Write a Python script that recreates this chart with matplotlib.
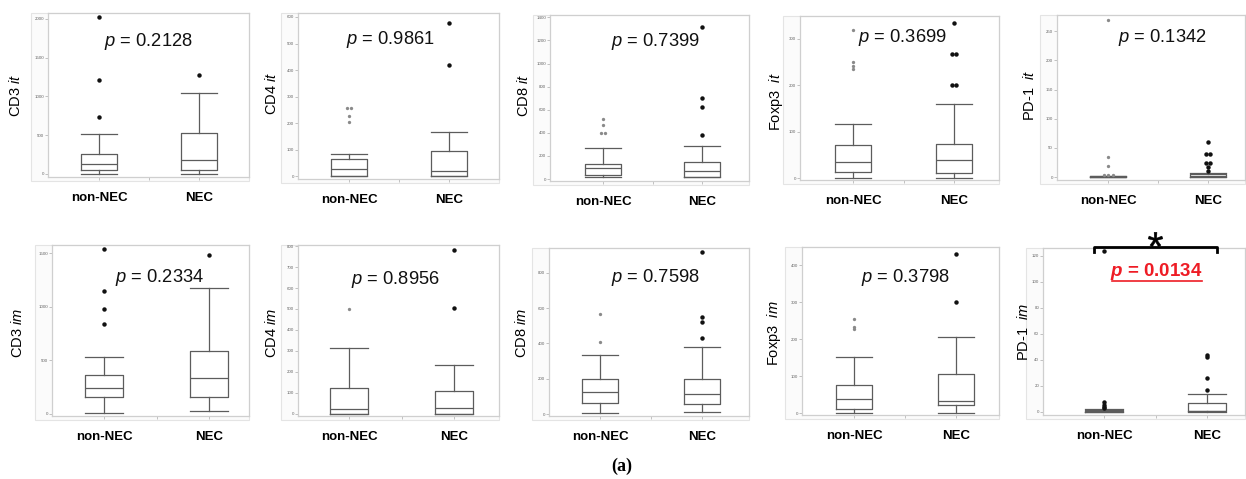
import matplotlib
matplotlib.use('Agg')
import matplotlib.pyplot as plt
from matplotlib.lines import Line2D
from matplotlib.patches import Rectangle

plt.rcParams['font.family'] = ['Liberation Sans', 'DejaVu Sans']
plt.rcParams['mathtext.fontset'] = 'custom'
plt.rcParams['mathtext.rm'] = 'Liberation Sans'
plt.rcParams['mathtext.it'] = 'Liberation Sans:italic'
plt.rcParams['mathtext.bf'] = 'Liberation Sans:bold'
plt.rcParams['mathtext.bfit'] = 'Liberation Sans:italic:bold'

W, H = 1246, 479

# ---- data ----
markers = ['CD3', 'CD4', 'CD8', 'Foxp3', 'PD-1', 'CD3', 'CD4', 'CD8', 'Foxp3', 'PD-1']
regions = ['it', 'it', 'it', 'it', 'it', 'im', 'im', 'im', 'im', 'im']
groups = ['non-NEC', 'NEC']
p_values = ['0.2128', '0.9861', '0.7399', '0.3699', '0.1342',
            '0.2334', '0.8956', '0.7598', '0.3798', '0.0134']

# [whislo, q1, med, q3, whishi]
non_nec_stats = [
    [0, 56, 125, 259, 509],
    [0, 0, 28, 65, 85],
    [14, 38, 98, 133, 271],
    [1, 14, 34, 71, 117],
    [0, 0, 0.5, 1.5, 2],
    [9, 156, 240, 367, 535],
    [0, 0, 25, 125, 312],
    [6, 62, 123, 198, 333],
    [0, 12, 37, 76, 152],
    [0, 0, 0.5, 1.5, 2],
]
nec_stats = [
    [0, 56, 185, 530, 1039],
    [0, 0, 19, 97, 166],
    [14, 20, 66, 144, 289],
    [1, 11, 39, 74, 160],
    [0, 0, 1.5, 5.7, 7],
    [25, 156, 336, 591, 1180],
    [0, 0, 30, 109, 233],
    [13, 59, 113, 198, 378],
    [0, 22, 34, 107, 205],
    [0, 0.3, 0.6, 6.4, 14],
]
non_nec_out = [
    [2021, 1207, 733],
    [258, 258, 226, 204],
    [522, 465, 395, 395],
    [319, 250, 241, 234],
    [270, 35, 19, 3, 3, 3],
    [1544, 1148, 983, 837],
    [499],
    [569, 408],
    [254, 232, 227],
    [124, 7.5, 5.5, 4, 3],
]
nec_out = [
    [1271],
    [576, 419],
    [1319, 699, 624, 381],
    [333, 268, 268, 200, 200],
    [60, 40, 40, 24, 24, 18, 10],
    [1488],
    [781, 507],
    [919, 552, 522, 433],
    [432, 301],
    [44, 42, 26, 17],
]
non_nec_grey = [False, True, True, True, True, False, True, True, True, False]

y_lims = [(-40, 2075), (-10, 615), (-17, 1420), (-4, 349), (-5, 278),
          (-19, 1578), (-10, 805), (-11, 940), (-5, 450), (-2.5, 126)]
y_steps = [500, 100, 200, 100, 50, 500, 100, 200, 100, 20]

# ---- layout in pixels ----
axes_px = [(48, 13, 249, 177), (298, 13, 499, 179), (550, 15, 749, 181),
           (800, 16, 999, 180), (1057, 15, 1245, 180),
           (52, 245, 249, 416), (298, 245, 499, 416), (549, 248, 749, 416),
           (802, 247, 999, 415), (1043, 248, 1245, 415)]
centers_px = [(99, 199), (349, 449), (603, 702), (853, 954), (1108, 1208),
              (104, 209), (349, 454), (600, 702), (854, 956), (1104, 1207)]
ptext_px = [(148, 41), (390, 39), (655, 41), (902, 38), (1162, 38),
            (160, 278), (395, 279), (655, 278), (905, 278), (1156, 272)]
ylabel_px = [(15, 95), (271, 93), (524, 95), (776, 102), (1030, 95),
             (17, 333), (271, 333), (522, 333), (774, 333), (1024, 332)]

fx = lambda px: px / W
fy = lambda py: 1 - py / H

fig = plt.figure(figsize=(W / 100, H / 100), dpi=100)
fig.patch.set_facecolor('white')

line_c = '#5c5c5c'
box_kw = dict(color=line_c, linewidth=0.9)


def draw_outliers(ax, pos, values, color, size):
    seen = {}
    for v in values:
        seen[v] = seen.get(v, 0) + 1
    for v, n in seen.items():
        for k in range(n):
            off = (k - (n - 1) / 2) * 0.045
            ax.plot(pos + off, v, 'o', color=color, markersize=size,
                    markeredgewidth=0, zorder=4)


for i in range(10):
    l, t, r, b = axes_px[i]
    # faint image frame behind each panel
    fig.add_artist(Rectangle((fx(l - 17), fy(b + 4)), (r - l + 17) / W, (b - t + 4) / H,
                             transform=fig.transFigure, facecolor='#fbfbfb',
                             edgecolor='#e4e4e4', linewidth=0.8, zorder=0))
    ax = fig.add_axes([fx(l), fy(b), (r - l) / W, (b - t) / H])
    ax.set_facecolor('white')
    c1, c2 = centers_px[i]
    unit = c2 - c1
    ax.set_xlim(1 - (c1 - l) / unit, 2 + (r - c2) / unit)
    ax.set_ylim(*y_lims[i])

    stats = []
    for s, name in zip([non_nec_stats[i], nec_stats[i]], groups):
        stats.append(dict(whislo=s[0], q1=s[1], med=s[2], q3=s[3], whishi=s[4], label=name))
    ax.bxp(stats, positions=[1, 2], widths=0.36, capwidths=0.36, showfliers=False,
           boxprops=box_kw, whiskerprops=box_kw, capprops=box_kw, medianprops=box_kw)

    draw_outliers(ax, 1, non_nec_out[i], '#8a8a8a' if non_nec_grey[i] else '#111111',
                  2.4 if non_nec_grey[i] else 3.2)
    draw_outliers(ax, 2, nec_out[i], '#111111', 3.2)

    for sp in ax.spines.values():
        sp.set_color('#cfcfcf')
        sp.set_linewidth(0.9)
    ax.set_yticks(range(0, int(y_lims[i][1]) + 1, y_steps[i]))
    ax.tick_params(axis='y', length=2, width=0.5, color='#aaaaaa',
                   labelsize=3.2, labelcolor='#666666', pad=0.8)
    ax.set_xticks([1, 2])
    ax.set_xticks([1.5], minor=True)
    ax.set_xticklabels(groups, fontsize=9.5, fontweight='bold')
    ax.tick_params(axis='x', which='both', length=2, width=0.5, color='#aaaaaa', pad=9)

    # y label with italic region
    lx, ly = ylabel_px[i]
    sep = '  ' if markers[i] in ('Foxp3', 'PD-1') else ' '
    fig.text(fx(lx), fy(ly), markers[i] + sep + '$\\mathit{' + regions[i] + '}$',
             rotation=90, ha='center', va='center', fontsize=10.5)

    # p-value
    px, py = ptext_px[i]
    if i == 9:
        fig.text(fx(px), fy(py), '$\\mathbfit{p}$ = ' + p_values[i], ha='center',
                 va='center', fontsize=13.5, fontweight='bold', color='#ee1c25')
        fig.add_artist(Line2D([fx(1112), fx(1202)], [fy(281), fy(281)],
                              transform=fig.transFigure, color='#ee1c25', linewidth=1.2))
    else:
        fig.text(fx(px), fy(py), '$\\mathit{p}$ = ' + p_values[i], ha='center',
                 va='center', fontsize=13.2, color='#111111')

# significance bracket on PD-1 im
fig.add_artist(Line2D([fx(1094), fx(1094), fx(1217), fx(1217)],
                      [fy(252), fy(247), fy(247), fy(252)],
                      transform=fig.transFigure, color='black', linewidth=2.0,
                      solid_joinstyle='round'))
# asterisk drawn as a glyph marker sitting on the bracket
fig.add_artist(Line2D([fx(1155)], [fy(239)], transform=fig.transFigure,
                      marker='$*$', markersize=10.5, color='black',
                      markeredgewidth=0.4, linestyle='none'))

# panel label
fig.text(fx(622), fy(466), '(a)', ha='center', va='center', fontsize=13,
         fontweight='bold', family=['Liberation Serif', 'DejaVu Serif'])

fig.savefig('out.png', dpi=100)
